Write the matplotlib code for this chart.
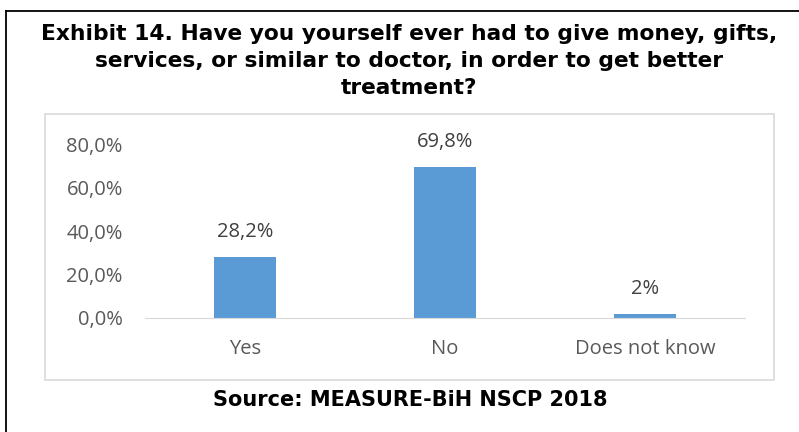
import matplotlib.pyplot as plt
from matplotlib.patches import Rectangle
from matplotlib.lines import Line2D

categories = ['Yes', 'No', 'Does not know']
values = [28.2, 69.8, 2.0]
labels = ['28,2%', '69,8%', '2%']
yticks = [0, 20, 40, 60, 80]
ytick_labels = ['0,0%', '20,0%', '40,0%', '60,0%', '80,0%']

W, H = 799, 432
fig = plt.figure(figsize=(W / 100, H / 100), dpi=100)

# outer frame (left and top only are visible)
fig.add_artist(Line2D([6 / W, 6 / W], [0, 1 - 11 / H], transform=fig.transFigure,
                      color='black', lw=1.3))
fig.add_artist(Line2D([6 / W, 1], [1 - 11 / H, 1 - 11 / H], transform=fig.transFigure,
                      color='black', lw=1.3))

# chart area box
fig.add_artist(Rectangle((45 / W, 1 - 380 / H), (774 - 45) / W, (380 - 114) / H,
                         transform=fig.transFigure, fill=False, edgecolor='#d9d9d9', lw=1.2))

fig.text(409 / W, 1 - 61 / H,
         'Exhibit 14. Have you yourself ever had to give money, gifts,\n'
         'services, or similar to doctor, in order to get better\n'
         'treatment?',
         ha='center', va='center', fontsize=15.7, fontweight='bold',
         family='DejaVu Sans', linespacing=1.45)

fig.text(410 / W, 1 - 400 / H, 'Source: MEASURE-BiH NSCP 2018', ha='center', va='center',
         fontsize=15, fontweight='bold', family='DejaVu Sans')

ax = fig.add_axes([145 / W, 1 - 318 / H, 600 / W, 173.4 / H])
x = range(len(categories))
ax.bar(x, values, width=0.31, color='#5b9bd5')
for xi, v, lab in zip(x, values, labels):
    ax.annotate(lab, (xi, v), xytext=(0, 18), textcoords='offset points',
                ha='center', va='center', fontsize=14.5,
                color='#404040', family='Open Sans')

ax.set_xlim(-0.5, 2.5)
ax.set_ylim(0, 80)
ax.set_yticks(yticks)
ax.set_yticklabels(ytick_labels)
ax.set_xticks(list(x))
ax.set_xticklabels(categories)
for t in ax.get_xticklabels() + ax.get_yticklabels():
    t.set_family('Open Sans')
    t.set_fontsize(14.5)
    t.set_color('#595959')
ax.tick_params(length=0)
ax.tick_params(axis='x', pad=15)
ax.tick_params(axis='y', pad=16)
for s in ['top', 'right', 'left']:
    ax.spines[s].set_visible(False)
ax.spines['bottom'].set_color('#d9d9d9')

fig.savefig('out.png', dpi=100)
